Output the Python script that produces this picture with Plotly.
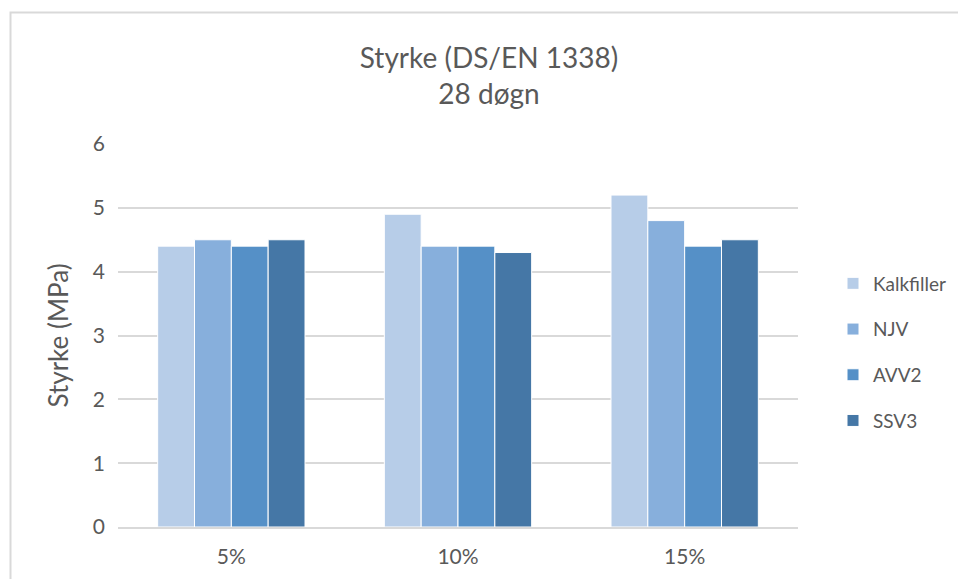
import plotly.graph_objects as go

categories = ["5%", "10%", "15%"]
series_names = ["Kalkfiller", "NJV", "AVV2", "SSV3"]
kalkfiller = [4.4, 4.9, 5.2]
njv = [4.5, 4.4, 4.8]
avv2 = [4.4, 4.4, 4.4]
ssv3 = [4.5, 4.3, 4.5]
colors = ["#B7CDE8", "#87AFDC", "#5590C7", "#4577A6"]

FONT = "Lato, Carlito, Liberation Sans, sans-serif"
TEXT = "#595959"

fig = go.Figure()
for name, vals, col in zip(series_names, [kalkfiller, njv, avv2, ssv3], colors):
    fig.add_trace(go.Bar(
        x=categories, y=vals, name=name, legendgroup=name,
        marker=dict(color=col, line=dict(color="white", width=1)),
    ))

L, R, T, B = 118, 160, 144, 52
W, H = 958, 579
pw, ph = W - L - R, H - T - B

fig.update_layout(
    width=W, height=H,
    margin=dict(l=L, r=R, t=T, b=B, autoexpand=False),
    paper_bgcolor="white", plot_bgcolor="white",
    barmode="group", bargap=0.35, bargroupgap=0,
    font=dict(family=FONT, color=TEXT, size=20),
    title=dict(
        text="Styrke (DS/EN 1338)<br>28 døgn",
        x=489 / W, xanchor="center",
        y=1 - 68 / H, yanchor="top",
        font=dict(size=28, color=TEXT, family=FONT),
    ),
    xaxis=dict(
        showgrid=False, showline=True, linecolor="#D9D9D9", linewidth=1.5,
        ticks="", tickfont=dict(size=21, color=TEXT), ticklabelstandoff=10,
    ),
    yaxis=dict(
        range=[0, 6], dtick=1, showgrid=True, gridcolor="#D9D9D9", gridwidth=1.5,
        zeroline=False, showline=False, ticks="",
        tickfont=dict(size=21, color=TEXT), ticklabelstandoff=12,
        title=dict(text="Styrke (MPa)", font=dict(size=26, color=TEXT), standoff=16),
    ),
    legend=dict(
        x=(833 - L) / pw, xanchor="left",
        y=(T + ph - 352) / ph, yanchor="middle",
        font=dict(size=19, color=TEXT),
        tracegroupgap=18, bgcolor="rgba(0,0,0,0)",
    ),
    showlegend=True,
)

# chart frame
fig.add_shape(
    type="rect", xref="paper", yref="paper",
    x0=(10.5 - L) / pw, x1=(W + 20 - L) / pw,
    y0=(T + ph - (H + 20)) / ph, y1=(T + ph - 12.5) / ph,
    line=dict(color="#D9D9D9", width=2), fillcolor="rgba(0,0,0,0)", layer="below",
)

fig.write_html("out.html")
